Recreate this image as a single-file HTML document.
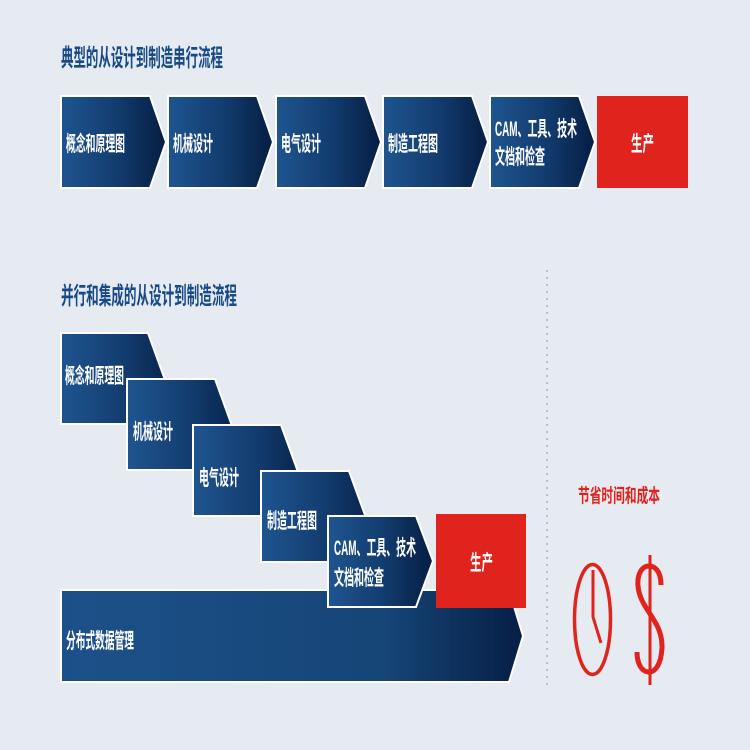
<!DOCTYPE html>
<html><head><meta charset="utf-8"><style>
html,body{margin:0;padding:0;background:#e6eaf1;}
svg{display:block;}
text{font-family:"Liberation Sans","Noto Sans CJK SC",sans-serif;font-weight:bold;}
</style></head><body>
<svg width="750" height="750" viewBox="0 0 750 750" xmlns="http://www.w3.org/2000/svg">
<defs>
<linearGradient id="g" x1="0" y1="0" x2="1" y2="0">
<stop offset="0" stop-color="#1f5590"/><stop offset="0.55" stop-color="#123b6d"/><stop offset="1" stop-color="#051d42"/>
</linearGradient>
<linearGradient id="gb" x1="0" y1="0" x2="1" y2="0">
<stop offset="0" stop-color="#1c5189"/><stop offset="0.7" stop-color="#164577"/><stop offset="1" stop-color="#061f45"/>
</linearGradient>
</defs>
<rect width="750" height="750" fill="#e6eaf1"/>

<text x="61" y="66" font-size="24" fill="#174a86" textLength="162" lengthAdjust="spacingAndGlyphs">典型的从设计到制造串行流程</text>

<g stroke="#fff" stroke-width="2">
<polygon points="61,96 150,96 166,142 150,188 61,188" fill="url(#g)"/>
<polygon points="168,96 257,96 273,142 257,188 168,188" fill="url(#g)"/>
<polygon points="276,96 365,96 381,142 365,188 276,188" fill="url(#g)"/>
<polygon points="383,96 472,96 488,142 472,188 383,188" fill="url(#g)"/>
<polygon points="490,96 579,96 595,142 579,188 490,188" fill="url(#g)"/>
</g>
<rect x="597" y="96" width="91" height="92" fill="#e0231d"/>
<g fill="#fff" font-size="21">
<text x="66" y="151" textLength="59" lengthAdjust="spacingAndGlyphs">概念和原理图</text>
<text x="173" y="151" textLength="40" lengthAdjust="spacingAndGlyphs">机械设计</text>
<text x="281" y="151" textLength="40" lengthAdjust="spacingAndGlyphs">电气设计</text>
<text x="388" y="151" textLength="50" lengthAdjust="spacingAndGlyphs">制造工程图</text>
<text x="495" y="136" textLength="82" lengthAdjust="spacingAndGlyphs">CAM、工具、技术</text>
<text x="495" y="164" textLength="50" lengthAdjust="spacingAndGlyphs">文档和检查</text>
<text x="631" y="151" textLength="23" lengthAdjust="spacingAndGlyphs">生产</text>
</g>

<text x="61" y="304" font-size="24" fill="#174a86" textLength="176" lengthAdjust="spacingAndGlyphs">并行和集成的从设计到制造流程</text>

<line x1="547" y1="270" x2="547" y2="690" stroke="#9aa3b0" stroke-width="1.2" stroke-dasharray="2,5"/>

<polygon points="61,590 509,590 523,636 509,682 61,682" fill="url(#gb)" stroke="#fff" stroke-width="2"/>
<text x="66" y="648" font-size="21" fill="#fff" textLength="68" lengthAdjust="spacingAndGlyphs">分布式数据管理</text>

<g stroke="#fff" stroke-width="2">
<polygon points="61,333 148,333 181,424 61,424" fill="url(#g)"/>
<polygon points="127,379 215,379 248,470 127,470" fill="url(#g)"/>
<polygon points="193,425 281,425 314,516 193,516" fill="url(#g)"/>
<polygon points="261,471 349,471 382,562 261,562" fill="url(#g)"/>
<polygon points="328,516 416,516 433,561 416,607 328,607" fill="url(#g)"/>
</g>
<rect x="436" y="514" width="90" height="94" fill="#e0231d"/>
<g fill="#fff" font-size="21">
<text x="65" y="383" textLength="59" lengthAdjust="spacingAndGlyphs">概念和原理图</text>
<text x="133" y="439" textLength="40" lengthAdjust="spacingAndGlyphs">机械设计</text>
<text x="199" y="485" textLength="40" lengthAdjust="spacingAndGlyphs">电气设计</text>
<text x="267" y="528" textLength="50" lengthAdjust="spacingAndGlyphs">制造工程图</text>
<text x="334" y="555" textLength="82" lengthAdjust="spacingAndGlyphs">CAM、工具、技术</text>
<text x="334" y="585" textLength="50" lengthAdjust="spacingAndGlyphs">文档和检查</text>
<text x="470" y="570" textLength="23" lengthAdjust="spacingAndGlyphs">生产</text>
</g>

<text x="578" y="502" font-size="19" fill="#e0231d" textLength="82" lengthAdjust="spacingAndGlyphs">节省时间和成本</text>
<ellipse cx="592.5" cy="619.5" rx="18" ry="55" fill="none" stroke="#e0231d" stroke-width="3.5"/>
<polyline points="593,570 593,617 601,643" fill="none" stroke="#e0231d" stroke-width="3"/>
<line x1="650" y1="555" x2="650" y2="685" stroke="#e0231d" stroke-width="3"/>
<path d="M661,585 C661,570 654,566 649,566 C642,566 637,574 638,586 C640,610 663,620 662,648 C661,665 655,672 649,672 C642,672 637,664 637,652" fill="none" stroke="#e0231d" stroke-width="5"/>
</svg>
</body></html>
